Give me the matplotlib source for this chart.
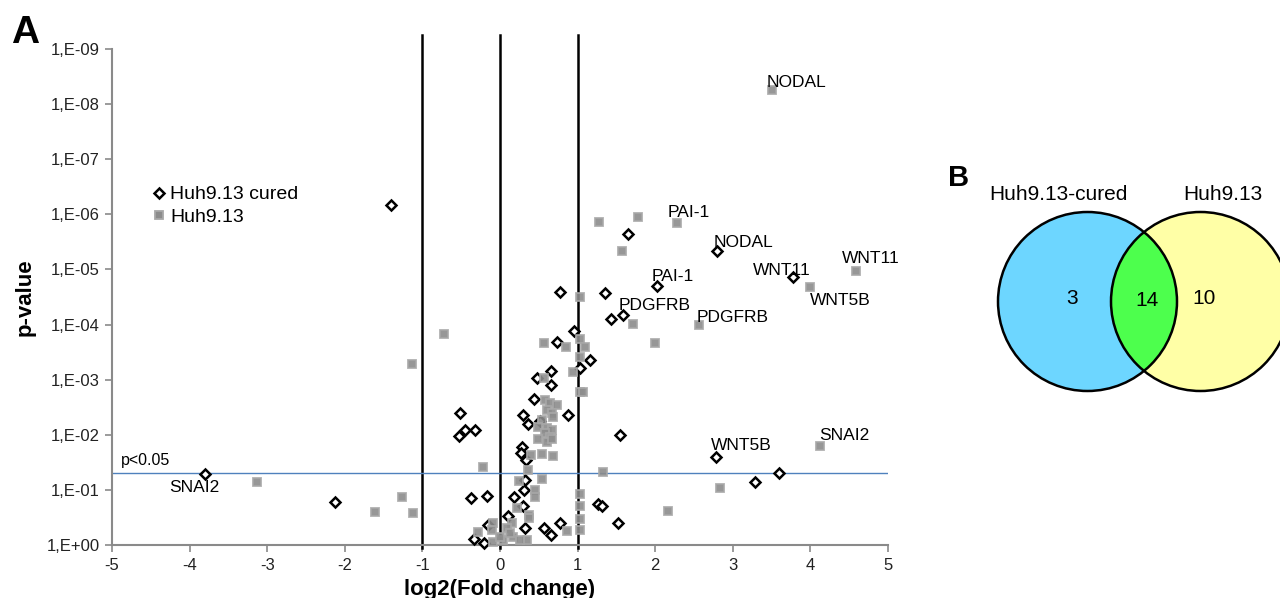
import numpy as np
import matplotlib
matplotlib.use("Agg")
import matplotlib.pyplot as plt
from matplotlib.patches import Circle
from matplotlib.lines import Line2D

plt.rcParams['font.family'] = ['Liberation Sans', 'DejaVu Sans']

# --- data: Huh9.13 cured (diamonds); first 6 points are labelled ---
cured_labels = ['SNAI2', 'NODAL', 'PAI-1', 'WNT11', 'PDGFRB', 'WNT5B']
cured_fc = [-3.80, 2.79, 2.02, 3.77, 1.58, 2.78,
            -2.12, -1.40, -0.51, -0.45, -0.53, -0.32, -0.37, -0.17, -0.33, -0.20,
            -0.15, 0.77, 1.35, 1.43, 0.95, 0.73, 1.16, 1.03, 0.66, 0.48,
            0.66, 0.44, 0.88, 0.30, 0.36, 0.51, 0.28, 0.27, 0.33, 0.32,
            0.31, 0.18, 0.10, 0.32, 0.57, 0.66, 0.77, 0.30, 1.26, 1.31,
            1.52, 1.55, 1.65, 3.59, 3.28]
cured_p = [5.1e-2, 4.6e-6, 2.0e-5, 1.4e-5, 6.8e-5, 2.5e-2,
           1.66e-1, 6.8e-7, 4.0e-3, 8.1e-3, 1.05e-2, 8.1e-3, 1.4e-1, 1.3e-1, 7.8e-1, 9.1e-1,
           4.4e-1, 2.6e-5, 2.7e-5, 7.9e-5, 1.3e-4, 2.1e-4, 4.4e-4, 6.2e-4, 6.9e-4, 9.3e-4,
           1.26e-3, 2.2e-3, 4.4e-3, 4.4e-3, 6.3e-3, 5.6e-3, 1.7e-2, 2.1e-2, 2.9e-2, 6.6e-2,
           1.0e-1, 1.35e-1, 3.0e-1, 4.9e-1, 4.9e-1, 6.6e-1, 4.0e-1, 2.0e-1, 1.8e-1, 2.0e-1,
           4.0e-1, 1.0e-2, 2.3e-6, 4.9e-2, 7.2e-2]

# --- data: Huh9.13 (squares); first 6 points are labelled ---
huh_labels = ['NODAL', 'PAI-1', 'WNT11', 'WNT5B', 'PDGFRB', 'SNAI2']
huh_fc = [3.51, 2.28, 4.59, 4.00, 2.56, 4.13,
          -3.13, -1.61, -1.26, -1.12, -1.13, -0.72, -0.22, -0.28, 0.57, 0.85,
          1.03, 1.03, 1.09, 1.03, 0.94, 0.57, 1.03, 1.07, 0.58, 0.64,
          0.73, 0.60, 0.67, 0.68, 0.54, 0.49, 0.60, 0.67, 0.58, 0.64,
          0.49, 0.60, 0.67, 0.54, 0.68, 0.40, 0.36, 0.24, 0.54, 0.45,
          0.45, 1.33, 1.03, 1.03, 1.03, 1.03, 0.86, 0.37, 0.38, 0.35,
          0.22, 0.15, 0.09, -0.09, -0.10, -0.09, 0.04, 0.17, 0.26, 0.13,
          0.00, 1.27, 1.78, 1.57, 1.71, 2.00, 2.84, 2.16]
huh_p = [5.5e-9, 1.45e-6, 1.07e-5, 2.1e-5, 1.02e-4, 1.6e-2,
         7.2e-2, 2.5e-1, 1.35e-1, 2.6e-1, 5.2e-4, 1.5e-4, 3.8e-2, 5.8e-1, 2.2e-4, 2.6e-4,
         3.2e-5, 1.8e-4, 2.6e-4, 3.9e-4, 7.2e-4, 9.3e-4, 1.7e-3, 1.7e-3, 2.3e-3, 2.6e-3,
         2.9e-3, 3.5e-3, 4.0e-3, 4.8e-3, 5.4e-3, 7.2e-3, 7.6e-3, 8.1e-3, 9.3e-3, 1.1e-2,
         1.2e-2, 1.35e-2, 1.2e-2, 2.2e-2, 2.4e-2, 2.3e-2, 4.4e-2, 6.9e-2, 6.3e-2, 1.0e-1,
         1.35e-1, 4.8e-2, 1.2e-1, 2.0e-1, 3.4e-1, 5.4e-1, 5.6e-1, 2.9e-1, 3.2e-1, 8.1e-1,
         2.1e-1, 4.0e-1, 4.9e-1, 4.0e-1, 5.4e-1, 8.9e-1, 8.1e-1, 7.1e-1, 8.1e-1, 6.0e-1,
         7.1e-1, 1.4e-6, 1.1e-6, 4.6e-6, 9.8e-5, 2.2e-4, 9.3e-2, 2.4e-1]

fc_cutoffs = [-1, 0, 1]
p_cutoff = 0.05
y_ticks = [1e0, 1e-1, 1e-2, 1e-3, 1e-4, 1e-5, 1e-6, 1e-7, 1e-8, 1e-9]
y_ticklabels = ['1,E+00', '1,E-01', '1,E-02', '1,E-03', '1,E-04',
                '1,E-05', '1,E-06', '1,E-07', '1,E-08', '1,E-09']
x_ticks = [-5, -4, -3, -2, -1, 0, 1, 2, 3, 4, 5]

venn_sets = ['Huh9.13-cured', 'Huh9.13']
venn_counts = [3, 14, 10]   # left only, both, right only

# label offsets in pixels (dx, dy, va)
cured_offsets = [(-36, -6, 'top'), (-3, 4, 'baseline'), (-5, 5, 'baseline'),
                 (-40, 2, 'baseline'), (-4, 5, 'baseline'), (-5, 7, 'baseline')]
huh_offsets = [(-6, 3, 'baseline'), (-9, 6, 'baseline'), (-14, 8, 'baseline'),
               (0, -6, 'top'), (-2, 3, 'baseline'), (-1, 6, 'baseline')]

gray = '#8a8a8a'
dia = dict(ls='none', marker='D', ms=4.8, mfc='white', mec='black', mew=1.8)
sq = dict(ls='none', marker='s', ms=6.0, mfc='#8c8c8c', mec='#a8a8a8', mew=1.3)

fig = plt.figure(figsize=(12.8, 5.98), dpi=100)
ax = fig.add_axes([112 / 1280, 1 - 545 / 598, 776 / 1280, 496 / 598])

ax.set_yscale('log')
ax.set_ylim(1, 1e-9)
ax.set_xlim(-5, 5)

for xc in fc_cutoffs:
    ax.axvline(xc, ymin=-0.006, ymax=1.028, color='black', lw=1.8,
               clip_on=False, zorder=2)
ax.axhline(p_cutoff, color='#4f81bd', lw=1.0, zorder=2)
ax.text(-4.88, p_cutoff * 0.8, 'p<0.05', fontsize=11.5, ha='left', va='bottom')

ax.plot(cured_fc, cured_p, zorder=3, clip_on=False, **dia)
ax.plot(huh_fc, huh_p, alpha=0.9, zorder=4, clip_on=False, **sq)

for lab, xv, pv, (dx, dy, va) in zip(cured_labels, cured_fc, cured_p, cured_offsets):
    ax.annotate(lab, (xv, pv), xytext=(dx, dy), textcoords='offset pixels',
                fontsize=12.5, ha='left', va=va, zorder=5)
for lab, xv, pv, (dx, dy, va) in zip(huh_labels, huh_fc, huh_p, huh_offsets):
    ax.annotate(lab, (xv, pv), xytext=(dx, dy), textcoords='offset pixels',
                fontsize=12.5, ha='left', va=va, zorder=5)

ax.set_yticks(y_ticks)
ax.set_yticklabels(y_ticklabels)
ax.yaxis.set_minor_locator(matplotlib.ticker.NullLocator())
ax.set_xticks(x_ticks)
ax.set_xticklabels([str(t) for t in x_ticks])
ax.tick_params(axis='both', direction='out', length=5, width=1.2, color=gray,
               labelsize=12, pad=4, labelcolor='#222222')
for s in ['top', 'right']:
    ax.spines[s].set_visible(False)
for s in ['left', 'bottom']:
    ax.spines[s].set_color(gray)
    ax.spines[s].set_linewidth(1.5)

ax.set_xlabel('log2(Fold change)', fontsize=16, fontweight='bold', labelpad=5)
ax.set_ylabel('p-value', fontsize=16, fontweight='bold', labelpad=8)

handles = [Line2D([], [], **dia), Line2D([], [], **sq)]
fig.legend(handles, ['Huh9.13 cured', 'Huh9.13'], loc='upper left',
           bbox_to_anchor=(143 / 1280, 1 - 176 / 598), frameon=False, fontsize=14,
           handlelength=0.6, handletextpad=0.3, labelspacing=0.25, borderpad=0)

fig.text(25 / 1280, 1 - 33 / 598, 'A', fontsize=28, fontweight='bold',
         ha='center', va='center')

# --- Venn diagram (panel B) in pixel coordinates ---
vax = fig.add_axes([0, 0, 1, 1])
vax.set_xlim(0, 1280)
vax.set_ylim(598, 0)
vax.axis('off')
vax.patch.set_visible(False)

r = 89.5
cl = (1087.5, 301.5)
cr = (1200.5, 301.5)
left = Circle(cl, r, facecolor='#6dd6ff', edgecolor='none', zorder=1)
right = Circle(cr, r, facecolor='#ffffa6', edgecolor='none', zorder=1)
vax.add_patch(left)
vax.add_patch(right)
lens = Circle(cr, r, facecolor='#4dff4d', edgecolor='none', zorder=2)
vax.add_patch(lens)
lens.set_clip_path(left)
vax.add_patch(Circle(cl, r, facecolor='none', edgecolor='black', lw=1.8, zorder=3))
vax.add_patch(Circle(cr, r, facecolor='none', edgecolor='black', lw=1.8, zorder=3))

vax.text(1072, 298, str(venn_counts[0]), fontsize=15, ha='center', va='center')
vax.text(1147, 300, str(venn_counts[1]), fontsize=15, ha='center', va='center')
vax.text(1204, 298, str(venn_counts[2]), fontsize=15, ha='center', va='center')
vax.text(1058, 195, venn_sets[0], fontsize=15, ha='center', va='center')
vax.text(1223, 195, venn_sets[1], fontsize=15, ha='center', va='center')
vax.text(959, 178, 'B', fontsize=21, fontweight='bold', ha='center', va='center')

fig.savefig('out.png', dpi=100)
